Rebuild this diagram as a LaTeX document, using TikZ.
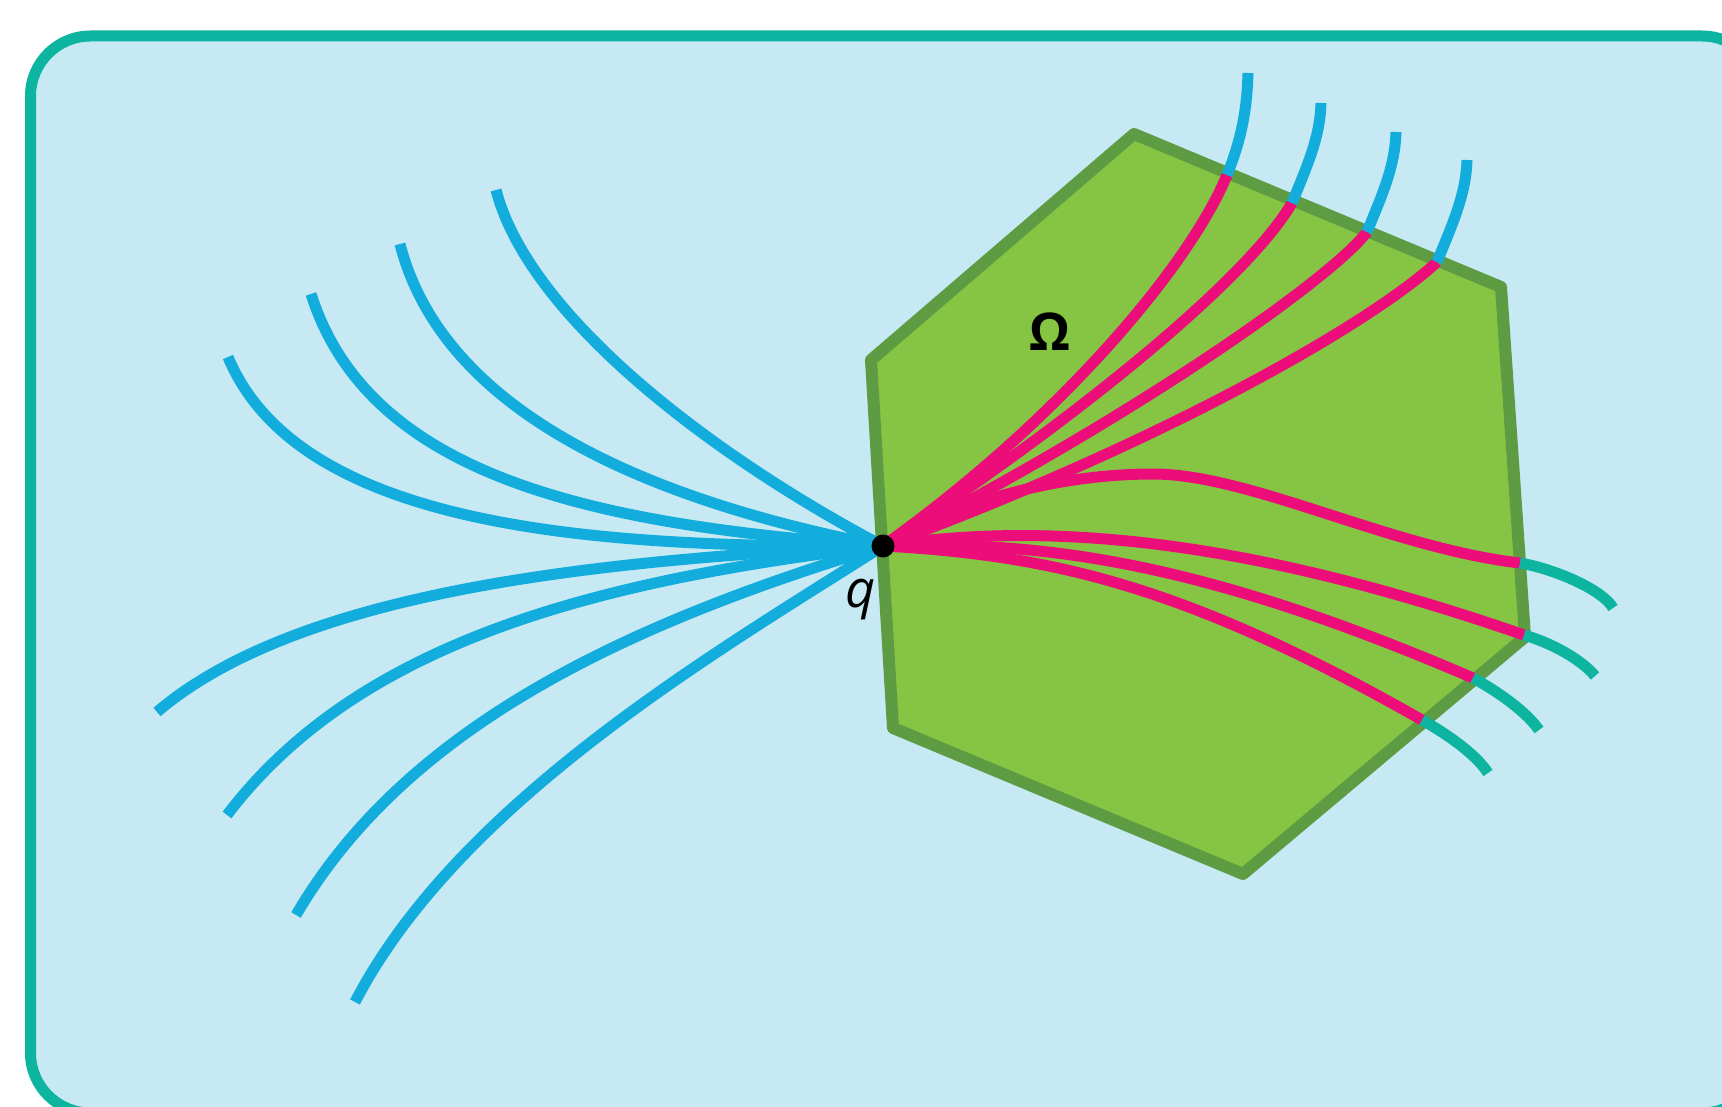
\documentclass[tikz,border=0pt]{standalone}
\usepackage{fontspec}
\newfontfamily\osans{Open Sans}
\definecolor{bgblue}{HTML}{C7E9F4}
\definecolor{frameteal}{HTML}{0DB4A0}
\definecolor{omfill}{HTML}{86C443}
\definecolor{omborder}{HTML}{5D9C43}
\definecolor{cblue}{HTML}{12ACDD}
\definecolor{cpink}{HTML}{EC0D7A}
\tikzset{
  frame/.style={line width=11pt, draw=frameteal, fill=bgblue, rounded corners=60pt},
  region/.style={line width=12pt, draw=omborder, fill=omfill, line join=round},
  bluecurve/.style={line width=11pt, draw=cblue},
  pinkcurve/.style={line width=11pt, draw=cpink},
  tealcurve/.style={line width=11pt, draw=frameteal},
  lbl/.style={inner sep=0pt, font=\osans\fontsize{52}{60}\selectfont}
}
\begin{document}
\begin{tikzpicture}[x=1pt,y=-1pt]
\useasboundingbox (0,0) rectangle (1722,1107);
% frame
\draw[frame] (30.5,36) rectangle (1762,1113);
% region Omega
\coordinate (v1) at (1134,134);
\coordinate (v2) at (1501,287);
\coordinate (v3) at (1525,637);
\coordinate (v4) at (1243,874);
\coordinate (v5) at (893,728);
\coordinate (v6) at (871,360);
\draw[region] (v1) -- (v2) -- (v3) -- (v4) -- (v5) -- (v6) -- cycle;
% point q
\coordinate (q) at (883,546);
% left curve ends
\coordinate (e1) at (496,190);
\coordinate (e2) at (400,244);
\coordinate (e3) at (311,294);
\coordinate (e4) at (228,357);
\coordinate (e5) at (157,712);
\coordinate (e6) at (227,815);
\coordinate (e7) at (296,915);
\coordinate (e8) at (355,1002);
\draw[bluecurve] (q) .. controls (720,460) and (530,320) .. (e1);
\draw[bluecurve] (q) .. controls (620,495) and (440,400) .. (e2);
\draw[bluecurve] (q) .. controls (600,525) and (370,480) .. (e3);
\draw[bluecurve] (q) .. controls (600,548) and (300,530) .. (e4);
\draw[bluecurve] (q) .. controls (600,560) and (300,590) .. (e5);
\draw[bluecurve] (q) .. controls (600,580) and (360,640) .. (e6);
\draw[bluecurve] (q) .. controls (640,620) and (410,720) .. (e7);
\draw[bluecurve] (q) .. controls (720,650) and (460,800) .. (e8);
% top boundary crossings and tips
\coordinate (jA) at (1227,175);
\coordinate (jB) at (1292,203);
\coordinate (jC) at (1367,232);
\coordinate (jD) at (1437,262);
\coordinate (tA) at (1248,73);
\coordinate (tB) at (1321,103);
\coordinate (tC) at (1396,132);
\coordinate (tD) at (1467,160);
% right boundary crossings and tips
\coordinate (jE) at (1520,563);
\coordinate (jF) at (1524,635);
\coordinate (jG) at (1473,678);
\coordinate (jH) at (1422,720);
\coordinate (tE) at (1613,608);
\coordinate (tF) at (1595,676);
\coordinate (tG) at (1539,730);
\coordinate (tH) at (1488,773);
% pink curves inside Omega
\draw[pinkcurve] (q) .. controls (1060,420) and (1190,265) .. (jA);
\draw[pinkcurve] (q) .. controls (1090,410) and (1250,275) .. (jB);
\draw[pinkcurve] (q) .. controls (1130,420) and (1330,280) .. (jC);
\draw[pinkcurve] (q) .. controls (1170,440) and (1375,320) .. (jD);
\draw[pinkcurve] (q) .. controls (960,500) and (1060,474) .. (1153,474) .. controls (1250,474) and (1390,548) .. (jE);
\draw[pinkcurve] (q) .. controls (1050,520) and (1250,540) .. (jF);
\draw[pinkcurve] (q) .. controls (1050,540) and (1210,565) .. (jG);
\draw[pinkcurve] (q) .. controls (1050,555) and (1185,585) .. (jH);
% continuations outside
\draw[bluecurve] (jA) .. controls (1242,138) and (1247,108) .. (tA);
\draw[bluecurve] (jB) .. controls (1307,166) and (1320,138) .. (tB);
\draw[bluecurve] (jC) .. controls (1382,195) and (1395,167) .. (tC);
\draw[bluecurve] (jD) .. controls (1452,225) and (1466,195) .. (tD);
\draw[tealcurve] (jE) .. controls (1555,569) and (1603,590) .. (tE);
\draw[tealcurve] (jF) .. controls (1552,643) and (1582,660) .. (tF);
\draw[tealcurve] (jG) .. controls (1495,690) and (1525,710) .. (tG);
\draw[tealcurve] (jH) .. controls (1445,733) and (1475,753) .. (tH);
% dot and labels
\node[circle, fill=black, inner sep=0pt, minimum size=23pt] (dot) at (q) {};
\node[lbl] (qlabel) at (861,600) {\itshape q};
\node[lbl] (omega) at (1050,332) {\bfseries Ω};
\end{tikzpicture}
\end{document}
